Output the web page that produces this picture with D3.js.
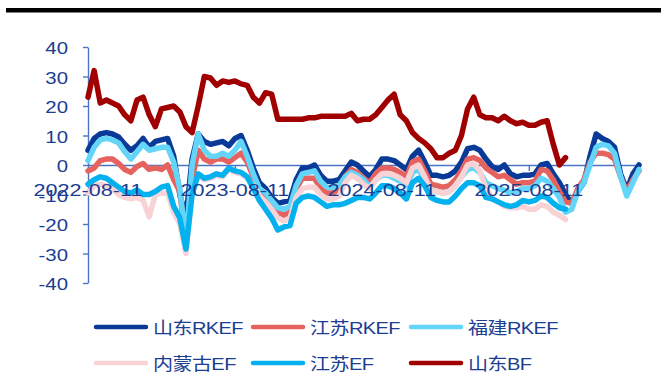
<!DOCTYPE html>
<html>
<head>
<meta charset="utf-8">
<script src="https://cdn.jsdelivr.net/npm/d3@7"></script>
<style>
  html, body { margin: 0; padding: 0; background: #fff; }
  svg { display: block; }
  text { font-family: "Liberation Sans", Arial, "Noto Sans CJK SC", sans-serif; }
</style>
</head>
<body>
<svg id="chart" width="661" height="373"></svg>
<script>
// Semi-monthly observation dates
const dates = [
  "2022-08-11","2022-08-26","2022-09-11","2022-09-26","2022-10-11","2022-10-26","2022-11-11","2022-11-26","2022-12-11","2022-12-26",
  "2023-01-11","2023-01-26","2023-02-11","2023-02-26","2023-03-11","2023-03-26","2023-04-11","2023-04-26","2023-05-11","2023-05-26",
  "2023-06-11","2023-06-26","2023-07-11","2023-07-26","2023-08-11","2023-08-26","2023-09-11","2023-09-26","2023-10-11","2023-10-26",
  "2023-11-11","2023-11-26","2023-12-11","2023-12-26","2024-01-11","2024-01-26","2024-02-11","2024-02-26","2024-03-11","2024-03-26",
  "2024-04-11","2024-04-26","2024-05-11","2024-05-26","2024-06-11","2024-06-26","2024-07-11","2024-07-26","2024-08-11","2024-08-26",
  "2024-09-11","2024-09-26","2024-10-11","2024-10-26","2024-11-11","2024-11-26","2024-12-11","2024-12-26","2025-01-11","2025-01-26",
  "2025-02-11","2025-02-26","2025-03-11","2025-03-26","2025-04-11","2025-04-26","2025-05-11","2025-05-26","2025-06-11","2025-06-26",
  "2025-07-11","2025-07-26","2025-08-11","2025-08-26","2025-09-11","2025-09-26","2025-10-11","2025-10-26","2025-11-11","2025-11-26",
  "2025-12-11","2025-12-26","2026-01-11","2026-01-26","2026-02-11","2026-02-26","2026-03-11","2026-03-26","2026-04-11","2026-04-26",
  "2026-05-11"
];

const xTickLabels = ["2022-08-11", "2023-08-11", "2024-08-11", "2025-08-11"];
const yTicks = [-40, -30, -20, -10, 0, 10, 20, 30, 40];

const shandongRKEF = [
  5, 9, 10.5, 11, 10.5, 9.5, 7, 5, 6.5, 9,
  6, 8, 8.5, 9, 3, -10, -18, 2, 10.5, 8,
  7, 7.5, 8, 6.5, 9, 10, 5, -1, -6, -8,
  -11, -13, -12.5, -12, -5, -1, -1, 0, -3.5, -5.5,
  -5.5, -5, -2, 1, 0, -2, -4, -1.5, 2, 2,
  1.5, 0, -1.5, 3, 5, 1, -3.5, -3.5, -4, -3.5,
  -2, 1, 5.5, 6, 5, 2, -0.5, -1.5, 0, -3,
  -4, -3.5, -3.5, -3, 0, 0.5, -3, -6, -10, -13,
  -9, -6, 3, 10.5, 9, 8, 6, -3, -8.5, -3, 0
];

const jiangsuRKEF = [
  -2, -1, 1.5, 2, 2, 0.5, -1.5, -2.5, -0.5, 0.5,
  -1.5, -1, -1.5, 0, -5, -9, -27, -5, 5, 2,
  1, 2, 2, 1, 2.5, 4, 1, -4, -8, -10,
  -12.5, -16, -17, -16, -8, -4.5, -4.5, -4.5, -8, -9.5,
  -9.5, -8.5, -4, -1.5, -2.5, -4.5, -6, -3, -1, -1,
  -1.5, -2.5, -4, 1, 2, -2, -6.5, -7, -7.5, -7,
  -5, -2, 2, 2.5, 1.5, -1, -2.5, -4, -3.5, -5,
  -6.5, -6, -6, -5.5, -1.5, -2, -5, -9, -12.5, -13,
  -8, -5, 1, 4, 4, 3.5, 2, -4, -9, -5, -2
];

const fujianRKEF = [
  1.5, 6, 8.5, 9, 8.5, 7.5, 4.5, 2, 4.5, 7,
  5, 5.5, 6, 6, 1, -8, -26, 0, 10.5, 5,
  3, 3, 4, 3, 5, 8, 3, -3, -8, -9.5,
  -12, -14.5, -15, -14, -7, -3, -2.5, -2, -5.5, -7.5,
  -7.5, -7, -4, -2.5, -3.5, -5, -7.5, -5, -3.5, -3.5,
  -4.5, -5.5, -7, -2.5, -1.5, -5, -8.5, -9, -9.5, -9,
  -7, -4, -1.5, -1, -2.5, -6, -7, -8, -8.5, -9.5,
  -9, -8, -8, -7, -4.5, -5.5, -8, -11, -16, -15,
  -9, -6, 0, 6, 7, 6.5, 4, -4, -10.5, -6, -1.5
];

const neimengguEF = [
  -9.5, -7, -6.5, -7, -8, -10, -11, -11.5, -11, -12,
  -17.5, -10, -9.5, -9.5, -16, -20, -30, -10, -3.5, -5,
  -4.5, -3.5, -4, -1.5, -2.5, -3, -4.5, -7, -10.5, -12.5,
  -15, -18, -19, -18, -11, -8, -7.5, -7.5, -10, -11.5,
  -11.5, -10.5, -6, -3.5, -4.5, -6.5, -8, -5, -3, -3,
  -3.5, -4.5, -6, -1, 0, -4, -8.5, -9, -9.5, -9,
  -7, -4, 0, 0.5, -2, -8, -11, -12.5, -14, -14.5,
  -14.5, -14, -15, -15, -13.5, -14, -16, -17, -18.5, null,
  null, null, null, null, null, null, null, null, null, null, null
];

const jiangsuEF = [
  -6.5, -5, -4, -4.5, -6, -7.5, -9, -9.5, -8.5, -10,
  -10, -9, -7.5, -7, -14, -18, -28.5, -10, -3, -4.5,
  -4, -3, -3.5, -1, -2, -2.5, -4, -8, -12, -15,
  -18, -22, -21, -20.5, -13, -11, -10.5, -11, -12.5, -14,
  -13.5, -13.5, -13, -12, -11, -11, -11.5, -9.5, -7, -7,
  -8, -9.5, -11.5, -6, -4.5, -7, -11, -12, -12.5, -12.5,
  -10.5, -8, -6, -6, -7, -11, -11.5, -12.5, -13.5, -14,
  -13.5, -12, -12.5, -12, -10.5, -11, -13, -14.5, -15, null,
  null, null, null, null, null, null, null, null, null, null, null
];

const shandongBF = [
  23, 32, 21, 22, 21, 20, 17, 15, 22, 23,
  17, 13, 19, 19.5, 20, 18, 13, 11, 20, 30,
  29.5, 27, 28.5, 28, 28.5, 27.5, 27, 23, 21, 24.5,
  24, 15.5, 15.5, 15.5, 15.5, 15.5, 16, 16, 16.5, 16.5,
  16.5, 16.5, 16.5, 17.5, 15, 15.5, 15.5, 17, 19.5, 22,
  24, 17, 15, 11, 9, 7.5, 5.5, 2.5, 2.5, 4,
  5, 10, 19, 23, 17, 16, 16, 15, 16.5, 15,
  14, 14.5, 13.5, 13.5, 14.5, 15, 7, 0, 2.5, null,
  null, null, null, null, null, null, null, null, null, null, null
];

// Series in drawing order (later ones sit on top)
const series = [
  { name: "山东RKEF", values: shandongRKEF, color: "#0a3a97" },
  { name: "江苏RKEF", values: jiangsuRKEF, color: "#e5625f" },
  { name: "福建RKEF", values: fujianRKEF, color: "#63d5f8" },
  { name: "内蒙古EF", values: neimengguEF, color: "#f8d2d4" },
  { name: "江苏EF", values: jiangsuEF, color: "#03b1ee" },
  { name: "山东BF", values: shandongBF, color: "#a00000" }
];

const axisColor = "#4a74c8";
const textColor = "#1b3d92";

const svg = d3.select("#chart");

// heavy rule across the top
svg.append("rect").attr("x", 6).attr("y", 8).attr("width", 655).attr("height", 4.5).attr("fill", "#000");

const x = d3.scalePoint().domain(dates).range([88, 639]);
const y = d3.scaleLinear().domain([-40, 40]).range([283, 47]);

// y axis
const gy = svg.append("g").attr("transform", "translate(88,0)")
  .call(d3.axisLeft(y).tickValues(yTicks).tickSize(5).tickSizeOuter(0).tickFormat(""));
gy.selectAll("path, line").attr("stroke", axisColor).attr("stroke-width", 1.4);

svg.append("g").selectAll("text").data(yTicks).join("text")
  .attr("transform", d => `translate(68,${y(d) + 7}) scale(1.2,1)`)
  .attr("text-anchor", "end")
  .attr("font-size", 17)
  .attr("fill", textColor)
  .text(d => d);

// x axis on the zero line
const gx = svg.append("g").attr("transform", `translate(0,${y(0)})`)
  .call(d3.axisBottom(x).tickValues(xTickLabels).tickSize(6).tickSizeOuter(0).tickFormat(""));
gx.selectAll("path, line").attr("stroke", axisColor).attr("stroke-width", 1.4);

// lines
const line = d3.line()
  .defined(d => d[1] !== null)
  .x(d => x(d[0]))
  .y(d => y(d[1]));

svg.append("g").selectAll("path").data(series).join("path")
  .attr("d", s => line(dates.map((dt, i) => [dt, s.values[i]])))
  .attr("fill", "none")
  .attr("stroke", s => s.color)
  .attr("stroke-width", 5.5)
  .attr("stroke-linejoin", "round")
  .attr("stroke-linecap", "round");

// date labels
svg.append("g").selectAll("text").data(xTickLabels).join("text")
  .attr("transform", d => `translate(${x(d)},${y(0) + 31}) scale(1.27,1)`)
  .attr("text-anchor", "middle")
  .attr("font-size", 17)
  .attr("fill", textColor)
  .text(d => d);

// legend: three columns, two rows
const legendCols = [96, 253, 411];
const legendRows = [327, 363];
const lg = svg.append("g").selectAll("g").data(series).join("g")
  .attr("transform", (s, i) => `translate(${legendCols[i % 3]},${legendRows[Math.floor(i / 3)]})`);
lg.append("line")
  .attr("x1", 0).attr("x2", 50).attr("y1", 0).attr("y2", 0)
  .attr("stroke", s => s.color).attr("stroke-width", 4.5).attr("stroke-linecap", "round");
lg.append("text")
  .attr("transform", "translate(57,7) scale(1.18,1)")
  .attr("font-size", 17)
  .attr("fill", textColor)
  .attr("letter-spacing", -0.5)
  .text(s => s.name);
</script>
</body>
</html>
